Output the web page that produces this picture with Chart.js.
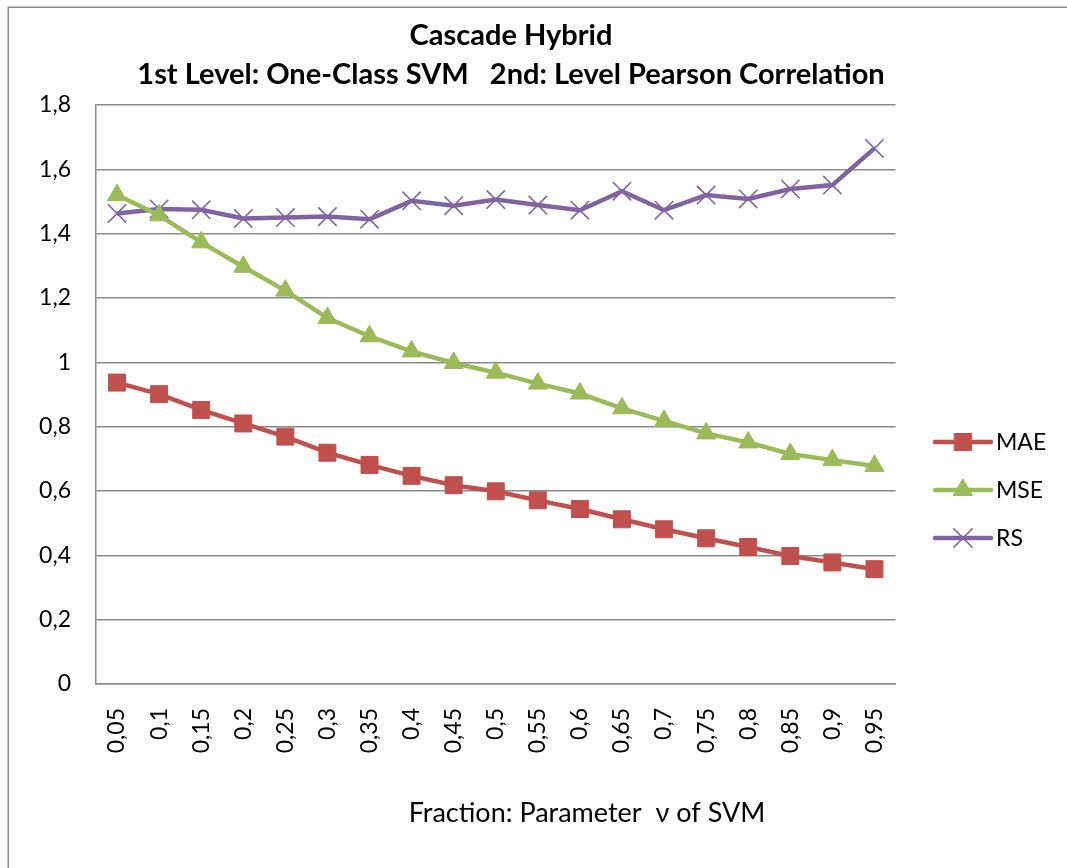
<!DOCTYPE html>
<html>
<head>
<meta charset="utf-8">
<script src="https://cdn.jsdelivr.net/npm/chart.js@4/dist/chart.umd.min.js"></script>
<style>
  html, body { margin: 0; padding: 0; background: #ffffff; }
  #wrap { position: relative; width: 1067px; height: 868px; }
</style>
</head>
<body>
<div id="wrap"><canvas id="c" width="1067" height="868"></canvas></div>
<script>
const categories = ['0,05','0,1','0,15','0,2','0,25','0,3','0,35','0,4','0,45','0,5','0,55','0,6','0,65','0,7','0,75','0,8','0,85','0,9','0,95'];
const maeValues = [0.937,0.901,0.852,0.810,0.769,0.719,0.681,0.647,0.618,0.599,0.571,0.544,0.512,0.481,0.453,0.426,0.398,0.378,0.357];
const mseValues = [1.520,1.457,1.373,1.297,1.223,1.138,1.081,1.034,0.998,0.968,0.934,0.903,0.857,0.818,0.779,0.751,0.715,0.696,0.678];
const rsValues  = [1.463,1.477,1.474,1.447,1.450,1.453,1.445,1.502,1.487,1.506,1.489,1.473,1.532,1.473,1.520,1.508,1.539,1.551,1.665];
const yTickLabels = ['0','0,2','0,4','0,6','0,8','1','1,2','1,4','1,6','1,8'];
const seriesNames = ['MAE','MSE','RS'];
const titleLines = ['Cascade Hybrid','1st Level: One-Class SVM   2nd: Level Pearson Correlation'];
const xAxisTitle = 'Fraction: Parameter  \u03bd of SVM';

const FONT = 'Lato, "Open Sans", sans-serif';

const decorPlugin = {
  id: 'decor',
  afterDraw(chart) {
    const ctx = chart.ctx;
    ctx.save();
    // outer frame
    ctx.strokeStyle = '#8a8a8a';
    ctx.lineWidth = 1.5;
    ctx.strokeRect(8.25, 7.25, 1200, 1000);
    // title
    ctx.fillStyle = '#000';
    ctx.textAlign = 'center';
    ctx.textBaseline = 'middle';
    ctx.font = 'bold 29px ' + FONT;
    ctx.fillText(titleLines[0], 511, 36);
    ctx.fillText(titleLines[1], 511, 75);
    // x axis title
    ctx.font = '27px ' + FONT;
    ctx.fillText(xAxisTitle, 587, 813);
    // legend
    const ds = chart.data.datasets;
    const lx0 = 935, lx1 = 991, ly0 = 442, lstep = 48;
    ds.forEach((d, i) => {
      const y = ly0 + i * lstep;
      ctx.strokeStyle = d.borderColor;
      ctx.lineWidth = d.borderWidth;
      ctx.lineCap = 'round';
      ctx.beginPath();
      ctx.moveTo(lx0, y);
      ctx.lineTo(lx1, y);
      ctx.stroke();
      ctx.fillStyle = d.pointBackgroundColor;
      ctx.strokeStyle = d.pointBorderColor;
      ctx.lineWidth = d.pointBorderWidth;
      Chart.helpers.drawPoint(ctx, {pointStyle: d.pointStyle, radius: d.pointRadius, rotation: 0, borderWidth: d.pointBorderWidth}, (lx0 + lx1) / 2, y);
      ctx.fillStyle = '#000';
      ctx.textAlign = 'left';
      ctx.textBaseline = 'middle';
      ctx.font = '23px ' + FONT;
      ctx.fillText(d.label, 996, y + 1);
    });
    ctx.restore();
  }
};

new Chart(document.getElementById('c'), {
  type: 'line',
  data: {
    labels: categories,
    datasets: [
      { label: seriesNames[0], data: maeValues, borderColor: '#C0504D', backgroundColor: '#C0504D',
        pointStyle: 'rect', pointRadius: 12, pointBackgroundColor: '#C0504D', pointBorderColor: '#C0504D', pointBorderWidth: 1,
        borderWidth: 4.5, tension: 0 },
      { label: seriesNames[1], data: mseValues, borderColor: '#9BBB59', backgroundColor: '#9BBB59',
        pointStyle: 'triangle', pointRadius: 11, pointBackgroundColor: '#9BBB59', pointBorderColor: '#9BBB59', pointBorderWidth: 1,
        borderWidth: 4.5, tension: 0 },
      { label: seriesNames[2], data: rsValues, borderColor: '#8064A2', backgroundColor: '#8064A2',
        pointStyle: 'crossRot', pointRadius: 13, pointBackgroundColor: '#8064A2', pointBorderColor: '#8064A2', pointBorderWidth: 1.6,
        borderWidth: 4.5, tension: 0 }
    ]
  },
  options: {
    responsive: false,
    animation: false,
    devicePixelRatio: 1,
    layout: { padding: { top: 105, left: 0, right: 171.5, bottom: 0 } },
    plugins: { legend: { display: false }, title: { display: false }, tooltip: { enabled: false } },
    elements: { point: { hoverRadius: 12 } },
    scales: {
      x: {
        offset: true,
        grid: { display: false, drawTicks: false },
        border: { display: true, color: '#8a8a8a', width: 1.5 },
        ticks: { color: '#000', font: { family: FONT, size: 23 }, minRotation: 90, maxRotation: 90, autoSkip: false, padding: 24 },
        afterFit(scale) { scale.height = 184; }
      },
      y: {
        min: 0, max: 1.8,
        grid: { color: '#8a8a8a', lineWidth: 1.5, drawTicks: false },
        border: { display: true, color: '#8a8a8a', width: 1.5 },
        ticks: { stepSize: 0.2, color: '#000', font: { family: FONT, size: 23 }, padding: 25,
                 callback: (v, i) => yTickLabels[i] },
        afterFit(scale) { scale.width = 96; }
      }
    }
  },
  plugins: [decorPlugin]
});
</script>
</body>
</html>
